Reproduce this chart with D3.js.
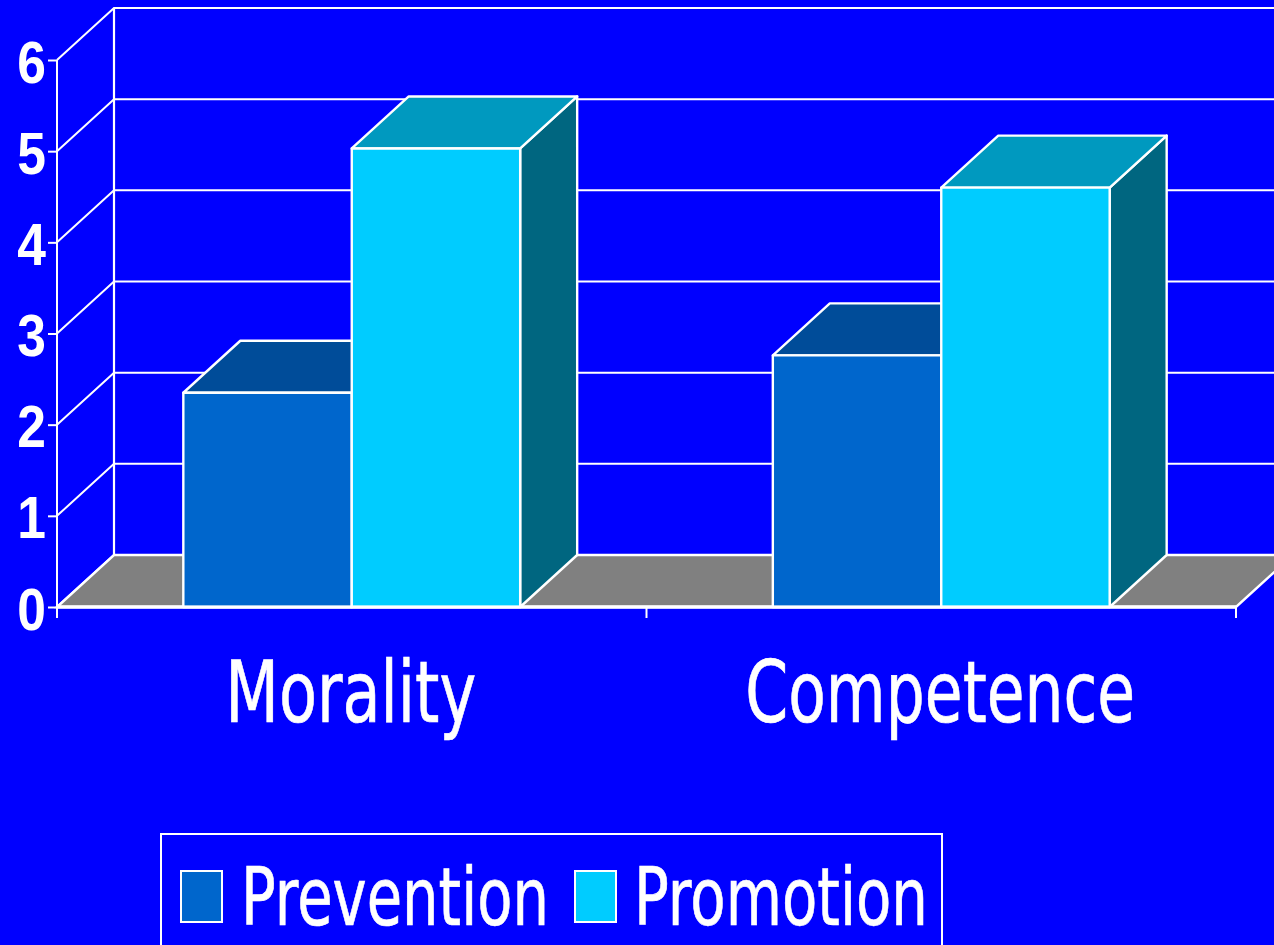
<!DOCTYPE html>
<html><head><meta charset="utf-8">
<script src="https://cdn.jsdelivr.net/npm/d3@7"></script>
<style>html,body{margin:0;padding:0;background:#00f;overflow:hidden}svg{display:block}</style>
</head><body><svg id="c" width="1274" height="945"></svg>
<script>
const categories = ["Morality", "Competence"];
const seriesNames = ["Prevention", "Promotion"];
const prevention = [2.35, 2.76];
const promotion = [5.03, 4.6];
const tickValues = [0, 1, 2, 3, 4, 5, 6];

const colors = {
  Prevention: {front:"#0066CC", top:"#004C99", side:"#004C80"},
  Promotion: {front:"#00CCFF", top:"#0099BF", side:"#006680"}
};
const W = "#fff";
const depthX = 57, depthY = -52;
const svg = d3.select("#c");
const y = d3.scaleLinear().domain([0, 6]).range([607, 60]);
const x0 = d3.scaleBand().domain(categories).range([57, 1236]);
const x1 = d3.scaleBand().domain(seriesNames).range([0, x0.bandwidth()]).paddingInner(0).paddingOuter(0.75);

svg.append("rect").attr("width",1274).attr("height",945).attr("fill","#0000FF");

// back wall and side wall
const xL = x0.range()[0], xR = x0.range()[1];
const wall = svg.append("g").attr("stroke",W).attr("fill","none");
tickValues.forEach(t => {
  wall.append("path").attr("stroke-width",2)
    .attr("d",`M${xL},${y(t)}L${xL+depthX},${y(t)+depthY}L${xR+depthX},${y(t)+depthY}`);
});
wall.append("line").attr("stroke-width",2.2).attr("x1",xL+depthX).attr("x2",xL+depthX).attr("y1",y(6)+depthY).attr("y2",y(0)+depthY);

// floor
svg.append("path").attr("fill","#808080").attr("stroke",W).attr("stroke-width",2.4)
  .attr("d",`M${xL},${y(0)}L${xL+depthX},${y(0)+depthY}L${xR+depthX},${y(0)+depthY}L${xR},${y(0)}Z`);

// axes
const yAxis = d3.axisLeft(y).tickValues(tickValues).tickSize(9).tickPadding(0).tickFormat(d3.format("d"));
const gy = svg.append("g").attr("transform",`translate(${xL},0)`).call(yAxis);
gy.select(".domain").attr("stroke",W).attr("stroke-width",2).attr("d",`M0,${y(6)}V${y(0)+11}`);
gy.selectAll(".tick line").attr("stroke",W).attr("stroke-width",2);
gy.selectAll(".tick text").attr("fill",W).attr("font-family","Liberation Sans").attr("font-weight","bold")
  .attr("font-size",60).attr("text-anchor","end").attr("x",0).attr("dy",0)
  .attr("transform","translate(-11,22) scale(0.86,1)");

const xAxis = d3.axisBottom(x0).tickValues([]).tickSizeOuter(0);
const gx = svg.append("g").attr("transform",`translate(0,${y(0)})`).call(xAxis);
gx.select(".domain").attr("stroke",W).attr("stroke-width",3).attr("d",`M${xL},0H${xR}`);
gx.selectAll(".edge").data(d3.range(categories.length+1)).join("line").attr("class","edge")
  .attr("stroke",W).attr("stroke-width",2)
  .attr("x1",i=>xL+i*x0.step()).attr("x2",i=>xL+i*x0.step()).attr("y1",0).attr("y2",11);

// bars
const rows = [];
categories.forEach((c,i)=>{
  rows.push({c,s:"Prevention",v:prevention[i]});
  rows.push({c,s:"Promotion",v:promotion[i]});
});
const bars = svg.append("g").attr("stroke",W).attr("stroke-width",2.4).attr("stroke-linejoin","round")
  .selectAll("g").data(rows).join("g");
const bx = d=>x0(d.c)+x1(d.s), bw = x1.bandwidth();
bars.append("path").attr("fill",d=>colors[d.s].side)
  .attr("d",d=>`M${bx(d)+bw},${y(d.v)}l${depthX},${depthY}V${y(0)+depthY}L${bx(d)+bw},${y(0)}Z`);
bars.append("path").attr("fill",d=>colors[d.s].top)
  .attr("d",d=>`M${bx(d)},${y(d.v)}l${depthX},${depthY}h${bw}l${-depthX},${-depthY}Z`);
bars.append("rect").attr("fill",d=>colors[d.s].front)
  .attr("x",bx).attr("width",bw).attr("y",d=>y(d.v)).attr("height",d=>y(0)-y(d.v));

// baseline drawn above bars
svg.append("line").attr("stroke",W).attr("stroke-width",3).attr("x1",xL).attr("x2",xR).attr("y1",y(0)).attr("y2",y(0));

// squeeze a text horizontally to a given width, keeping real glyphs
function squeeze(sel, width, px, py){
  sel.attr("transform", function(d){
    const sx = width(d) / this.getComputedTextLength();
    return `translate(${px(d)},${py}) scale(${sx},1)`;
  });
}

// category labels
const catLen = {Morality:251, Competence:390};
const cats = svg.selectAll(".cat").data(categories).join("text").attr("class","cat")
  .attr("text-anchor","middle")
  .attr("fill",W).attr("stroke",W).attr("stroke-width",0.7)
  .attr("font-family","DejaVu Sans").attr("font-size",86).text(c=>c);
squeeze(cats, c=>catLen[c], c=>x0(c)+x0.bandwidth()/2 - 1, 722);

// legend
svg.append("rect").attr("x",161).attr("y",834).attr("width",781).attr("height",140)
  .attr("fill","none").attr("stroke",W).attr("stroke-width",2);
const leg = [
  {s:"Prevention",sx:181,tx:241,len:308},
  {s:"Promotion",sx:575,tx:634,len:294}
];
const lg = svg.selectAll(".leg").data(leg).join("g").attr("class","leg");
lg.append("rect").attr("x",d=>d.sx).attr("y",871).attr("width",41).attr("height",51)
  .attr("fill",d=>colors[d.s].front).attr("stroke",W).attr("stroke-width",2);
const legT = lg.append("text").attr("fill",W)
  .attr("stroke",W).attr("stroke-width",0.7)
  .attr("font-family","DejaVu Sans").attr("font-size",80).text(d=>d.s);
squeeze(legT, d=>d.len, d=>d.tx, 925);
</script></body></html>
